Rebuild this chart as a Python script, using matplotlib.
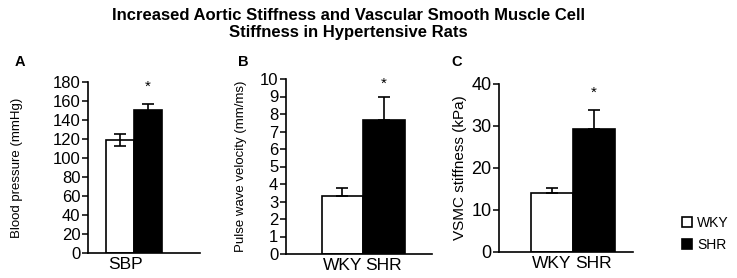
import matplotlib
matplotlib.use("Agg")
import matplotlib.pyplot as plt
from matplotlib.patches import Patch

plt.rcParams['font.family'] = ['Liberation Sans', 'DejaVu Sans']

groups = ['WKY', 'SHR']
colors = ['white', 'black']

# panel A: systolic blood pressure
sbp_mean = [119, 151]
sbp_err = [6, 6]
# panel B: pulse wave velocity
pwv_mean = [3.3, 7.65]
pwv_err = [0.5, 1.35]
# panel C: VSMC stiffness
vsmc_mean = [14.0, 29.3]
vsmc_err = [1.3, 4.5]

W, H = 737, 278
fig = plt.figure(figsize=(W / 100, H / 100), dpi=100)


def px_axes(left, right, top, bottom):
    return fig.add_axes([left / W, 1 - bottom / H, (right - left) / W, (bottom - top) / H])


def style(ax, fs, xfs):
    for s in ['top', 'right']:
        ax.spines[s].set_visible(False)
    for s in ['left', 'bottom']:
        ax.spines[s].set_linewidth(1.2)
    ax.tick_params(axis='y', direction='out', length=4, width=1.1, labelsize=fs, pad=1.5)
    ax.tick_params(axis='x', length=0, labelsize=xfs, pad=3)


def draw(ax, means, errs, lower):
    x = [0, 1]
    yerr = [errs if lower else [0, 0], errs]
    ax.bar(x, means, width=1.0, color=colors, edgecolor='black', linewidth=1.2,
           yerr=yerr, error_kw=dict(ecolor='black', elinewidth=1.2, capsize=4, capthick=1.2),
           zorder=2)


# A
axA = px_axes(88, 200, 82, 253)
draw(axA, sbp_mean, sbp_err, True)
axA.set_xlim(-1.143, 2.857)
axA.set_ylim(0, 180)
axA.set_yticks(range(0, 181, 20))
axA.set_xticks([0.2])
axA.set_xticklabels(['SBP'])
axA.set_ylabel('Blood pressure (mmHg)', fontsize=9.5)
axA.yaxis.set_label_coords(-0.58, 0.5)
style(axA, 12, 12.5)
axA.text(1, 175, '*', ha='center', va='center', fontsize=11)

# B
axB = px_axes(286, 432, 79, 254)
draw(axB, pwv_mean, pwv_err, False)
axB.set_xlim(-1.361, 2.157)
axB.set_ylim(0, 10)
axB.set_yticks(range(0, 11))
axB.set_xticks([0, 1])
axB.set_xticklabels(groups)
axB.set_ylabel('Pulse wave velocity (mm/ms)', fontsize=9.5)
axB.yaxis.set_label_coords(-0.267, 0.5)
style(axB, 12, 12.5)
axB.text(1, 9.7, '*', ha='center', va='center', fontsize=11)

# C
axC = px_axes(499, 633, 84, 252)
draw(axC, vsmc_mean, vsmc_err, False)
axC.set_xlim(-1.262, 1.929)
axC.set_ylim(0, 40)
axC.set_yticks(range(0, 41, 10))
axC.set_xticks([0, 1])
axC.set_xticklabels(groups)
axC.set_ylabel('VSMC stiffness (kPa)', fontsize=11)
axC.yaxis.set_label_coords(-0.239, 0.5)
style(axC, 13, 12.5)
axC.text(1, 38.0, '*', ha='center', va='center', fontsize=11)

for letter, xp in [('A', 20), ('B', 243), ('C', 457)]:
    fig.text(xp / W, 1 - 62 / H, letter, fontsize=10.5, fontweight='bold',
             ha='center', va='center')

fig.text(348 / W, 1 - 15 / H, 'Increased Aortic Stiffness and Vascular Smooth Muscle Cell',
         fontsize=12, fontweight='bold', ha='center', va='center')
fig.text(348 / W, 1 - 33 / H, 'Stiffness in Hypertensive Rats',
         fontsize=12, fontweight='bold', ha='center', va='center')

handles = [Patch(facecolor=c, edgecolor='black', linewidth=1.2) for c in colors]
fig.legend(handles, groups, loc='center left', bbox_to_anchor=(682 / W, 1 - 234 / H),
           frameon=False, borderpad=0, borderaxespad=0,
           handlelength=0.75, handleheight=0.75, handletextpad=0.35,
           labelspacing=0.55, fontsize=10)

fig.savefig('out.png', dpi=100)
